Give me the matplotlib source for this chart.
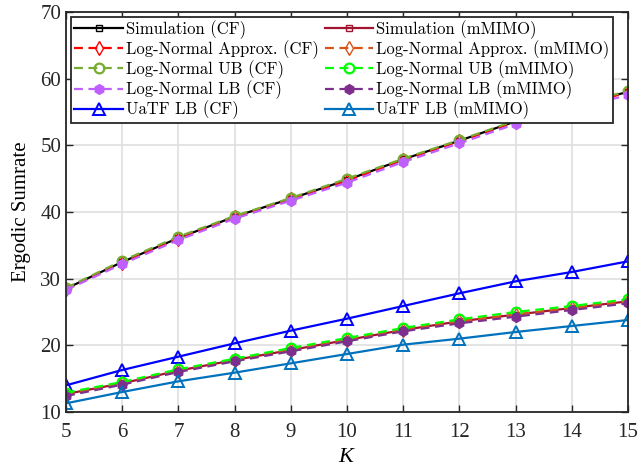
import numpy as np
import matplotlib
matplotlib.use("Agg")
import matplotlib.pyplot as plt

plt.rcParams['font.family'] = ['Liberation Serif', 'DejaVu Serif']
plt.rcParams['mathtext.fontset'] = 'custom'
plt.rcParams['mathtext.it'] = 'Liberation Serif:italic'
plt.rcParams['mathtext.rm'] = 'Liberation Serif'

K = [5, 6, 7, 8, 9, 10, 11, 12, 13, 14, 15]

# cell-free (CF)
sim_cf = [28.5, 32.5, 36.1, 39.3, 42.0, 44.8, 47.9, 50.7, 53.6, 56.0, 58.0]
approx_cf = [28.4, 32.4, 36.0, 39.2, 41.9, 44.7, 47.8, 50.6, 53.5, 55.9, 57.9]
ub_cf = [28.6, 32.7, 36.3, 39.4, 42.1, 45.0, 48.0, 50.8, 53.7, 56.1, 58.1]
lb_cf = [28.3, 32.2, 35.8, 39.0, 41.7, 44.4, 47.5, 50.3, 53.2, 55.6, 57.5]
uatf_cf = [14.0, 16.3, 18.3, 20.3, 22.2, 24.0, 25.9, 27.8, 29.6, 31.0, 32.6]

# massive MIMO
sim_mm = [12.7, 14.3, 16.2, 17.8, 19.3, 20.8, 22.3, 23.6, 24.6, 25.6, 26.6]
approx_mm = [12.6, 14.3, 16.2, 17.8, 19.3, 20.8, 22.3, 23.6, 24.6, 25.6, 26.6]
ub_mm = [12.9, 14.5, 16.4, 18.0, 19.6, 21.1, 22.6, 23.9, 25.0, 25.9, 26.9]
lb_mm = [12.4, 14.1, 16.0, 17.6, 19.1, 20.6, 22.1, 23.3, 24.3, 25.3, 26.3]
uatf_mm = [11.3, 13.0, 14.6, 15.9, 17.3, 18.7, 20.1, 21.0, 22.0, 22.9, 23.8]

fig = plt.figure(figsize=(6.38, 4.70), dpi=100)
ax = fig.add_axes([66/638, 1-412/470, (628-66)/638, (412-12)/470])

lw = 1.6
dsh = (4, 2.5)
ax.plot(K, sim_cf, '-', color='black', marker='s', mfc='none', ms=5, lw=lw, label='Simulation (CF)')
ax.plot(K, approx_cf, '--', color='#FF0000', marker='d', mfc='none', ms=7, lw=lw, dashes=dsh, label='Log-Normal Approx. (CF)')
ax.plot(K, ub_cf, '--', color='#77AC30', marker='o', mfc='none', ms=7, mew=1.6, lw=lw, dashes=dsh, label='Log-Normal UB (CF)')
ax.plot(K, lb_cf, '--', color='#BF5FFF', marker='h', ms=7, lw=lw, dashes=dsh, label='Log-Normal LB (CF)')
ax.plot(K, uatf_cf, '-', color='#0000FF', marker='^', mfc='none', ms=8, mew=1.4, lw=lw, label='UaTF LB (CF)')
ax.plot(K, sim_mm, '-', color='#A2142F', marker='s', mfc='none', ms=5, lw=lw, label='Simulation (mMIMO)')
ax.plot(K, approx_mm, '--', color='#D95319', marker='d', mfc='none', ms=7, lw=lw, dashes=dsh, label='Log-Normal Approx. (mMIMO)')
ax.plot(K, ub_mm, '--', color='#00FF00', marker='o', mfc='none', ms=7, mew=1.6, lw=lw, dashes=dsh, label='Log-Normal UB (mMIMO)')
ax.plot(K, lb_mm, '--', color='#7E2F8E', marker='h', ms=7, lw=lw, dashes=dsh, label='Log-Normal LB (mMIMO)')
ax.plot(K, uatf_mm, '-', color='#0072BD', marker='^', mfc='none', ms=8, mew=1.4, lw=lw, label='UaTF LB (mMIMO)')

ax.set_xlim(5, 15)
ax.set_ylim(10, 70)
ax.set_xticks(range(5, 16))
ax.set_yticks(range(10, 71, 10))
ax.grid(True, color='#DFDFDF', lw=1.2)
ax.set_axisbelow(True)
ax.tick_params(direction='in', top=True, right=True, labelsize=15, length=5, width=1, colors='#262626')
ax.tick_params(axis='x', pad=8)
for s in ax.spines.values():
    s.set_linewidth(1.3)
    s.set_color('#262626')

ax.set_xlabel('$K$', fontsize=16, labelpad=4)
ax.set_ylabel('Ergodic Sumrate', fontsize=15, labelpad=7)

leg = ax.legend(loc='upper left', ncol=2, prop={'family': 'cmr10', 'size': 12}, frameon=True, fancybox=False,
                edgecolor='#262626', framealpha=1, handlelength=2.9, handletextpad=0.2,
                columnspacing=0.35, labelspacing=0.08, borderpad=0.2, borderaxespad=0.3,
                bbox_to_anchor=(0.0, 1.0))
leg.get_frame().set_linewidth(1.3)

fig.savefig('out.png', dpi=100)
